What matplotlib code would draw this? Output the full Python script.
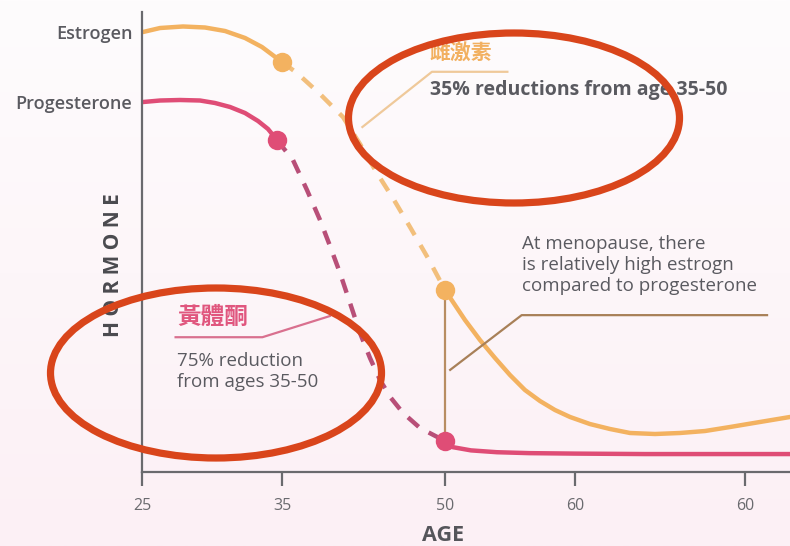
import numpy as np
import matplotlib
matplotlib.use("Agg")
import matplotlib.pyplot as plt
from matplotlib.patches import Ellipse
from matplotlib.colors import LinearSegmentedColormap
from matplotlib.transforms import IdentityTransform

plt.rcParams['font.family'] = ['Open Sans', 'Noto Sans CJK TC', 'DejaVu Sans']

# age axis: ticks as printed (last label really is "60")
tick_ages = [25, 35, 50, 60, 70]
tick_labels = ['25', '35', '50', '60', '60']

# estrogen level (arbitrary units 0-100)
est_early_age = [25.07, 26.29, 27.93, 29.5, 30.93, 32.36, 33.57, 35.0]
est_early_lvl = [95.65, 96.52, 96.85, 96.63, 95.87, 94.35, 92.39, 89.13]
est_drop_age = [35.0, 36.38, 38.5, 40.61, 42.18, 43.74, 45.31, 46.78, 48.43, 50.0]
est_drop_lvl = [89.13, 86.74, 82.17, 77.17, 71.3, 65.0, 59.13, 53.26, 46.52, 39.57]
est_late_age = [50.0, 50.77, 51.54, 52.69, 53.85, 55.0, 56.15, 57.31, 58.46, 59.62,
                60.88, 62.06, 63.24, 64.71, 66.18, 67.65, 69.12, 70.88, 72.65]
est_late_lvl = [39.57, 36.3, 33.04, 28.7, 24.78, 21.09, 17.83, 15.43, 13.48, 11.96,
                10.43, 9.35, 8.48, 8.26, 8.48, 8.91, 9.78, 10.87, 11.96]

# progesterone level
pro_early_age = [25.07, 26.29, 27.71, 29.14, 30.21, 31.29, 32.36, 33.29, 34.0, 34.64]
pro_early_lvl = [80.43, 80.76, 80.87, 80.76, 80.22, 79.35, 78.04, 76.3, 74.57, 72.17]
pro_drop_age = [34.64, 36.01, 37.3, 38.5, 39.42, 40.34, 41.26, 42.18, 43.1, 44.02,
                45.03, 46.14, 47.7, 50.0]
pro_drop_lvl = [72.17, 67.83, 61.3, 54.78, 49.13, 43.26, 36.74, 30.22, 24.78, 20.0,
                16.09, 12.83, 9.57, 6.74]
pro_late_age = [50.0, 50.6, 52.0, 54.0, 56.5, 60.0, 64.1, 68.0, 72.65]
pro_late_lvl = [6.74, 5.4, 4.7, 4.3, 4.1, 4.0, 3.9, 3.9, 3.9]

orange = '#f3b260'
orange_dash = '#f2bf7c'
pink = '#df4d76'
pink_dash = '#b84f78'
brown = '#b88d62'
grey = '#5a5a60'
ring = '#d9451b'

# piecewise age scale, spacing follows the printed ticks
scale_ages = [15, 25, 35, 50, 60, 70, 80]
scale_px = [2, 142, 282, 445, 575, 745, 915]


def fwd(a):
    return np.interp(a, scale_ages, scale_px)


def inv(p):
    return np.interp(p, scale_px, scale_ages)


fig = plt.figure(figsize=(7.9, 5.46), dpi=100)

# soft pink backdrop
bg = fig.add_axes([0, 0, 1, 1], zorder=-5)
cmap = LinearSegmentedColormap.from_list('bg', ['#fefcfd', '#fcf0f5'])
bg.imshow(np.linspace(0, 1, 256).reshape(-1, 1), aspect='auto', cmap=cmap,
          extent=[0, 1, 0, 1])
bg.axis('off')

ax = fig.add_axes([142 / 790, 74 / 546, 648 / 790, 460 / 546])
ax.set_facecolor('none')
ax.set_xscale('function', functions=(fwd, inv))
ax.set_xlim(25, 72.65)
ax.set_ylim(0, 100)

for s in ['top', 'right']:
    ax.spines[s].set_visible(False)
for s in ['left', 'bottom']:
    ax.spines[s].set_color('#6a6a6e')
    ax.spines[s].set_linewidth(1.6)

ax.set_xticks(tick_ages, tick_labels)
ax.xaxis.set_minor_locator(matplotlib.ticker.NullLocator())
ax.tick_params(axis='x', length=10, width=1.6, color='#6a6a6e', pad=9,
               labelsize=11.5, labelcolor='#6a6a6e')
ax.set_yticks([est_early_lvl[0], pro_early_lvl[0]], ['Estrogen', 'Progesterone'])
ax.tick_params(axis='y', length=0, pad=7, labelsize=13, labelcolor=grey)
for t in ax.get_yticklabels():
    t.set_fontweight('semibold')

ax.set_xlabel('AGE', fontsize=15.5, fontweight='bold', color='#55555a')
ax.xaxis.set_label_coords(301 / 648, -0.115)
ax.set_ylabel('H O R M O N E', fontsize=15, fontweight='bold', color='#4a4a4f')
ax.yaxis.set_label_coords(-0.028, 0.45)

# curves
lw = 3.2
ax.plot(est_early_age, est_early_lvl, color=orange, lw=lw, solid_capstyle='round')
ax.plot(est_drop_age, est_drop_lvl, color=orange_dash, lw=lw, dashes=(3.2, 2.6))
ax.plot(est_late_age, est_late_lvl, color=orange, lw=lw, solid_capstyle='round')
ax.plot(pro_early_age, pro_early_lvl, color=pink, lw=lw, solid_capstyle='round')
ax.plot(pro_drop_age, pro_drop_lvl, color=pink_dash, lw=lw, dashes=(3.2, 2.6))
ax.plot(pro_late_age, pro_late_lvl, color=pink, lw=lw, solid_capstyle='round')

# menopause gap
ax.plot([est_late_age[0], pro_late_age[0]], [est_late_lvl[0], pro_late_lvl[0]],
        color=brown, lw=1.6, zorder=1)

ax.plot([est_drop_age[0], est_drop_age[-1]], [est_drop_lvl[0], est_drop_lvl[-1]],
        'o', color=orange, ms=14, mec='none', zorder=5)
ax.plot([pro_drop_age[0], pro_drop_age[-1]], [pro_drop_lvl[0], pro_drop_lvl[-1]],
        'o', color=pink, ms=14, mec='none', zorder=5)

# estrogen note
ax.plot([42.4, 48.8, 54.8], [75.0, 87.0, 87.0], color='#efc99a', lw=1.6)
ax.text(48.6, 91.0, '雌激素', color='#f2b060', fontsize=15,
        family=['Noto Sans CJK TC'], fontweight='bold', va='center', ha='left')
ax.text(48.6, 83.0, '35% reductions from age 35-50', color=grey, fontsize=14,
        fontweight='bold', va='center', ha='left')

# progesterone note
ax.plot([27.4, 33.6, 39.4], [29.3, 29.3, 33.9], color='#d9708f', lw=1.6)
ax.text(27.5, 33.7, '黃體酮', color='#e0567e', fontsize=17,
        family=['Noto Sans CJK TC'], fontweight='bold', va='center', ha='left')
ax.text(27.5, 21.8, '75% reduction\nfrom ages 35-50', color=grey, fontsize=13.5,
        va='center', ha='left', linespacing=1.2)

# menopause note
ax.plot([50.4, 55.9, 71.3], [22.2, 34.1, 34.1], color='#a88058', lw=1.6)
ax.text(55.95, 45.0, 'At menopause, there\nis relatively high estrogn\ncompared to progesterone',
        color=grey, fontsize=13.5, va='center', ha='left', linespacing=1.2)

# highlight rings, drawn in figure pixels
for cx, cy in [(514, 118), (216, 373)]:
    e = Ellipse((cx, 546 - cy), 331, 170, fill=False, ec=ring, lw=5.2,
                transform=IdentityTransform())
    fig.add_artist(e)

fig.savefig('out.png', dpi=100)
